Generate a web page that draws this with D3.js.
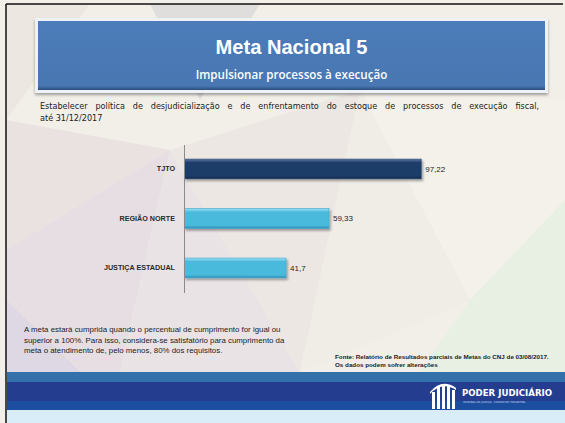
<!DOCTYPE html>
<html><head><meta charset="utf-8">
<script src="https://cdn.jsdelivr.net/npm/d3@7/dist/d3.min.js"></script>
<style>html,body{margin:0;padding:0;background:#fff;}svg{display:block;}</style>
</head><body>
<svg id="c" width="565" height="423"></svg>
<script>
// ---- data ----
const categories = ["TJTO", "REGIÃO NORTE", "JUSTIÇA ESTADUAL"];
const values = [97.22, 59.33, 41.7];
const xDomain = [0, 100];
const titleText = "Meta Nacional 5";
const subtitleText = "Impulsionar processos à execução";
const goalLines = ["Estabelecer política de desjudicialização e de enfrentamento do estoque de processos de execução fiscal,", "até 31/12/2017"];
const noteLines = ["A meta estará cumprida quando o percentual de cumprimento for igual ou", "superior a 100%. Para isso, considera-se satisfatório para cumprimento da", "meta o atendimento de, pelo menos, 80% dos requisitos."];
const sourceLines = ["Fonte: Relatório de Resultados parciais de Metas do CNJ de 03/08/2017.", "Os dados podem sofrer alterações"];

const svg = d3.select("#c");
const defs = svg.append("defs");
const loc = d3.formatLocale({decimal: ",", thousands: ".", grouping: [3], currency: ["R$", ""]});
const fmt = loc.format(".2~f");

function fitWidth(sel, target) {
  const fs = +sel.attr("font-size");
  const w = sel.node().getComputedTextLength();
  if (w > 0) sel.attr("font-size", fs * target / w);
  return +sel.attr("font-size");
}
function justify(sel, target) {
  let w = sel.node().getComputedTextLength();
  if (w > target) { fitWidth(sel, target); return; }
  const n = (sel.text().match(/ /g) || []).length;
  if (n > 0) sel.attr("word-spacing", (target - w) / n);
}

// background
svg.append("rect").attr("width", 565).attr("height", 423).attr("fill", "#f2efe8");
const polys = [
  {p: [[6,4],[90,4],[6,120]], c: "#ebe6df"},
  {p: [[6,120],[170,150],[6,250]], c: "#e9dfe0"},
  {p: [[6,250],[170,150],[120,372],[6,372]], c: "#e4dbe2"},
  {p: [[120,372],[170,150],[300,372]], c: "#e9e1e4"},
  {p: [[170,150],[360,90],[300,372]], c: "#ece6e2"},
  {p: [[300,372],[360,90],[470,300]], c: "#efebe6"},
  {p: [[470,300],[565,200],[565,372],[420,372]], c: "#e7efe3"},
  {p: [[360,90],[565,100],[565,200],[470,300]], c: "#f3f1e9"},
  {p: [[6,300],[80,372],[6,372]], c: "#ddd6e3"},
  {p: [[150,4],[260,4],[200,100]], c: "#dedadc"}
];
svg.append("g").selectAll("polygon").data(polys).join("polygon")
  .attr("points", d => d.p.map(q => q.join(",")).join(" "))
  .attr("fill", d => d.c).attr("opacity", 0.9);

// frame lines
svg.append("line").attr("x1", 6).attr("x2", 563).attr("y1", 4).attr("y2", 4).attr("stroke", "#111").attr("stroke-width", 1.5);
svg.append("line").attr("x1", 6).attr("x2", 6).attr("y1", 4).attr("y2", 423).attr("stroke", "#111").attr("stroke-width", 1.5);

// title box
const sh = defs.append("filter").attr("id", "sh").attr("x", "-10%").attr("y", "-10%").attr("width", "120%").attr("height", "140%");
sh.append("feDropShadow").attr("dx", 0).attr("dy", 2).attr("stdDeviation", 1.5).attr("flood-color", "#000").attr("flood-opacity", 0.35);
svg.append("rect").attr("x", 35).attr("y", 18).attr("width", 513).attr("height", 75).attr("fill", "#eef2f7").attr("filter", "url(#sh)");
const tg = defs.append("linearGradient").attr("id", "tg").attr("x1", 0).attr("y1", 0).attr("x2", 0).attr("y2", 1);
tg.append("stop").attr("offset", "0%").attr("stop-color", "#4c7cb9");
tg.append("stop").attr("offset", "94%").attr("stop-color", "#4877b2");
tg.append("stop").attr("offset", "100%").attr("stop-color", "#2c4f7e");
svg.append("rect").attr("x", 38).attr("y", 21).attr("width", 507).attr("height", 69).attr("fill", "url(#tg)");
const tt = svg.append("text").attr("x", 291.5).attr("y", 54).attr("text-anchor", "middle")
  .attr("font-family", "Liberation Sans, Arial, sans-serif").attr("font-weight", "bold").attr("font-size", 18)
  .attr("fill", "#fff").text(titleText);
fitWidth(tt, 152);
const st = svg.append("text").attr("x", 291.5).attr("y", 78.5).attr("text-anchor", "middle")
  .attr("font-family", "Open Sans, sans-serif").attr("font-weight", 600).attr("font-size", 10)
  .attr("fill", "#fff").text(subtitleText);
fitWidth(st, 192);

// goal text
const g1 = svg.append("text").attr("x", 40).attr("y", 109)
  .attr("font-family", "DejaVu Sans, Verdana, sans-serif").attr("font-size", 8.1).attr("fill", "#222").text(goalLines[0]);
justify(g1, 499);
svg.append("text").attr("x", 40).attr("y", 120.5)
  .attr("font-family", "DejaVu Sans, Verdana, sans-serif").attr("font-size", g1.attr("font-size")).attr("fill", "#222").text(goalLines[1]);

// chart
const x = d3.scaleLinear().domain(xDomain).range([184.5, 428]);
const y = d3.scaleBand().domain(categories).range([144.2, 292.7]).paddingInner(0.6).paddingOuter(0.3);

function grad(id, top, mid, bot) {
  const g = defs.append("linearGradient").attr("id", id).attr("x1", 0).attr("y1", 0).attr("x2", 0).attr("y2", 1);
  g.append("stop").attr("offset", "0%").attr("stop-color", top);
  g.append("stop").attr("offset", "18%").attr("stop-color", mid);
  g.append("stop").attr("offset", "85%").attr("stop-color", mid);
  g.append("stop").attr("offset", "100%").attr("stop-color", bot);
}
grad("gDark", "#5a7aa6", "#1f3c68", "#142a4c");
grad("gCyan", "#a2e2f4", "#4ab9dc", "#2c8fb6");
const bsh = defs.append("filter").attr("id", "bsh").attr("x", "-5%").attr("y", "-20%").attr("width", "115%").attr("height", "160%");
bsh.append("feDropShadow").attr("dx", 1.5).attr("dy", 2).attr("stdDeviation", 1.2).attr("flood-color", "#000").attr("flood-opacity", 0.35);

const bars = svg.append("g");
bars.selectAll("rect").data(categories).join("rect")
  .attr("x", x(0)).attr("y", d => y(d))
  .attr("width", (d, i) => x(values[i]) - x(0)).attr("height", y.bandwidth())
  .attr("fill", (d, i) => i === 0 ? "url(#gDark)" : "url(#gCyan)")
  .attr("stroke", (d, i) => i === 0 ? "#2d4a74" : "#3aa6cc").attr("stroke-width", 0.6)
  .attr("filter", "url(#bsh)");

// axis line
const yAxis = d3.axisLeft(y).tickSize(0).tickPadding(9.5);
const ag = svg.append("g").attr("transform", `translate(${x(0)},0)`).call(yAxis);
ag.select(".domain").attr("stroke", "#8a8a8a").attr("stroke-width", 1)
  .attr("d", `M0,145V293`);
ag.selectAll(".tick text").attr("font-family", "Liberation Sans, Arial, sans-serif").attr("font-size", 7.2)
  .attr("font-weight", "bold").attr("fill", "#2a2a2a");

// value labels
svg.append("g").selectAll("text").data(categories).join("text")
  .attr("x", (d, i) => x(values[i]) + 4).attr("y", d => y(d) + y.bandwidth() / 2 + 3)
  .attr("font-family", "Liberation Sans, Arial, sans-serif").attr("font-size", 8).attr("fill", "#222")
  .text((d, i) => fmt(values[i]));

// notes
const nt = svg.append("g").selectAll("text").data(noteLines).join("text")
  .attr("x", 24).attr("y", (d, i) => 332 + i * 10.5)
  .attr("font-family", "Liberation Sans, Arial, sans-serif").attr("font-size", 7).attr("fill", "#222")
  .text(d => d);
const nfs = fitWidth(d3.select(nt.nodes()[0]), 257);
nt.attr("font-size", nfs);
const so = svg.append("g").selectAll("text").data(sourceLines).join("text")
  .attr("x", 335).attr("y", (d, i) => 359 + i * 8)
  .attr("font-family", "Liberation Sans, Arial, sans-serif").attr("font-size", 5.6).attr("fill", "#222")
  .attr("font-weight", "bold").text(d => d);
const sfs = fitWidth(d3.select(so.nodes()[0]), 214);
so.attr("font-size", sfs);

// footer band
const band = [
  {y: 372, h: 10, c: "#3470aa"},
  {y: 382, h: 19, c: "#253d8f"},
  {y: 401, h: 9, c: "#1c4ea0"},
  {y: 410, h: 13, c: "#d8edf7"}
];
svg.append("g").selectAll("rect").data(band).join("rect")
  .attr("x", 7).attr("y", d => d.y).attr("width", 558).attr("height", d => d.h).attr("fill", d => d.c);

// logo
const lg = svg.append("g").attr("fill", "#fff");
[[432,392,3],[437,387,3],[442,384,3],[447,386,3],[452,390,3]].forEach(([lx, ly, w]) => {
  lg.append("rect").attr("x", lx).attr("y", ly).attr("width", w).attr("height", 409 - ly);
});
lg.append("path").attr("d", "M430,392 Q442,378 456,388 L456,390 Q442,381 430,394Z");
svg.append("text").attr("x", 462).attr("y", 396).attr("font-family", "DejaVu Sans, sans-serif")
  .attr("font-weight", "bold").attr("font-size", 8.6).attr("fill", "#fff").text("PODER JUDICIÁRIO");
svg.append("text").attr("x", 463).attr("y", 402.5).attr("font-family", "DejaVu Sans, sans-serif")
  .attr("font-size", 2.6).attr("fill", "#c9d6ef").text("TRIBUNAL DE JUSTIÇA · ESTADO DO TOCANTINS");
</script>
</body></html>
